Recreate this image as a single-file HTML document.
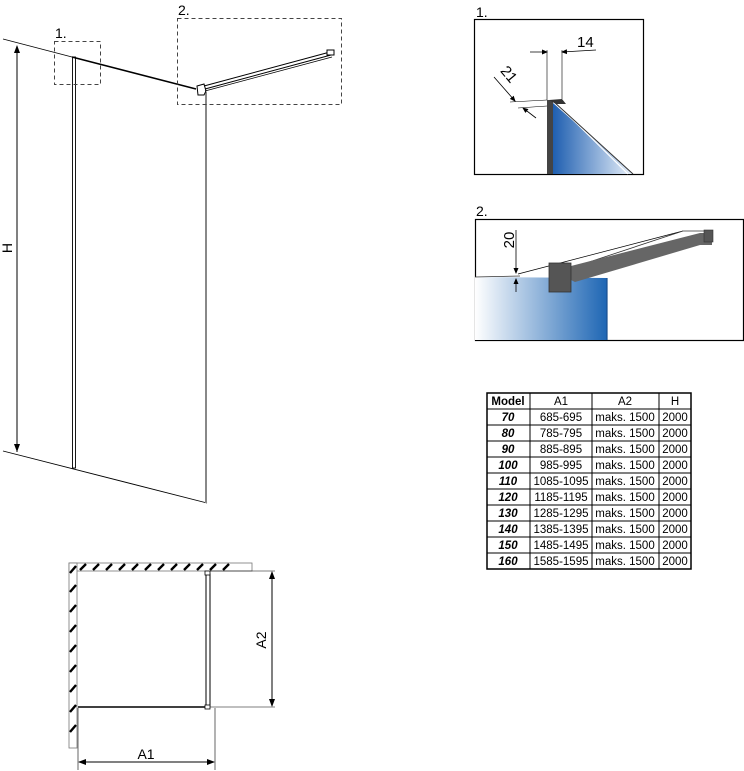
<!DOCTYPE html>
<html><head><meta charset="utf-8"><style>
html,body{margin:0;padding:0;background:#fff;}
svg{display:block;font-family:"Liberation Sans","DejaVu Sans",sans-serif;}
</style></head><body>
<svg width="744" height="771" viewBox="0 0 744 771" xmlns="http://www.w3.org/2000/svg">
<defs>
<linearGradient id="g1" x1="0" y1="0" x2="1" y2="0"><stop offset="0" stop-color="#1f5fb0"/><stop offset="1" stop-color="#e8f0fa"/></linearGradient>
<linearGradient id="g2" x1="0" y1="0" x2="1" y2="0"><stop offset="0" stop-color="#ffffff"/><stop offset="1" stop-color="#1e66b4"/></linearGradient>
<marker id="ar" markerWidth="8" markerHeight="8" refX="7" refY="4" orient="auto" markerUnits="userSpaceOnUse"><path d="M0,1 L8,4 L0,7 z" fill="#000"/></marker>
<marker id="ar2" markerWidth="6" markerHeight="6" refX="5" refY="3" orient="auto" markerUnits="userSpaceOnUse"><path d="M0,0.5 L6,3 L0,5.5 z" fill="#000"/></marker>
</defs>
<!-- main elevation -->
<line x1="3" y1="39" x2="72" y2="57" stroke="#000" stroke-width="0.8"/>
<line x1="72" y1="57" x2="196" y2="89" stroke="#000" stroke-width="1.5"/>
<line x1="3" y1="451" x2="207" y2="503" stroke="#000" stroke-width="0.9"/>
<rect x="72.5" y="57" width="3" height="411" fill="none" stroke="#000" stroke-width="0.9"/>
<line x1="206" y1="92" x2="206" y2="503" stroke="#888" stroke-width="2"/>
<path d="M197,86 L204,84 L206,91 L204,95 L198,95 z" fill="#fff" stroke="#000" stroke-width="1"/>
<line x1="204" y1="86" x2="330" y2="52" stroke="#000" stroke-width="1"/>
<line x1="205" y1="89" x2="331" y2="55" stroke="#000" stroke-width="1"/>
<line x1="205" y1="91" x2="332" y2="57" stroke="#000" stroke-width="0.8"/>
<rect x="327" y="50" width="7" height="5" fill="#fff" stroke="#000" stroke-width="1"/>
<line x1="17" y1="452" x2="17" y2="46" stroke="#000" stroke-width="1" marker-end="url(#ar)"/>
<line x1="17" y1="46" x2="17" y2="451" stroke="#000" stroke-width="1" marker-end="url(#ar)"/>
<text x="12" y="248" font-size="14" transform="rotate(-90 12 248)" text-anchor="middle">H</text>
<rect x="54.5" y="41.5" width="46" height="43" fill="none" stroke="#444" stroke-dasharray="4,3"/>
<rect x="177.5" y="18.5" width="164" height="86" fill="none" stroke="#444" stroke-dasharray="4,3"/>
<text x="55" y="38" font-size="14">1.</text>
<text x="178" y="15" font-size="14">2.</text>
<!-- detail 1 -->
<text x="476" y="17" font-size="14">1.</text>
<rect x="474.5" y="19.5" width="169" height="155" fill="#fff" stroke="#000" stroke-width="1.2"/>
<path d="M553,103 L633,174 L553,174 z" fill="url(#g1)"/>
<line x1="555" y1="102" x2="628" y2="174" stroke="#fff" stroke-width="1.2"/>
<line x1="553" y1="101" x2="633" y2="174" stroke="#333" stroke-width="1"/>
<rect x="547" y="100" width="6" height="74" fill="#444"/>
<path d="M549,100 L562,99 L566,104 L556,104 z" fill="#333"/>
<line x1="547" y1="50" x2="547" y2="100" stroke="#000" stroke-width="0.6"/>
<line x1="562" y1="50" x2="562" y2="99" stroke="#000" stroke-width="0.6"/>
<line x1="530" y1="52" x2="547" y2="52" stroke="#000" stroke-width="0.8" marker-end="url(#ar2)"/>
<line x1="596" y1="50" x2="562" y2="52" stroke="#000" stroke-width="0.8" marker-end="url(#ar2)"/>
<text x="577" y="47" font-size="15">14</text>
<line x1="510" y1="102" x2="547" y2="100" stroke="#000" stroke-width="0.6"/>
<line x1="518" y1="108" x2="547" y2="106" stroke="#000" stroke-width="0.6"/>
<line x1="494" y1="77" x2="515" y2="101" stroke="#000" stroke-width="0.8" marker-end="url(#ar2)"/>
<line x1="536" y1="118" x2="523" y2="108" stroke="#000" stroke-width="0.8" marker-end="url(#ar2)"/>
<text x="498" y="75" font-size="15" transform="rotate(50 503 75)">21</text>
<!-- detail 2 -->
<text x="476" y="216" font-size="14">2.</text>
<rect x="475.5" y="219.5" width="268" height="121" fill="#fff" stroke="#000" stroke-width="1.2"/>
<path d="M475,277 L607,278 L607,340 L475,340 z" fill="url(#g2)"/>
<line x1="607" y1="278" x2="607" y2="340" stroke="#1a4f90" stroke-width="1.2"/>
<line x1="475" y1="277" x2="520" y2="276" stroke="#333" stroke-width="0.8"/>
<line x1="518" y1="274" x2="683" y2="231" stroke="#000" stroke-width="0.7"/>
<path d="M571,268 L683,231 L709,231 L709,238 L571,275 z" fill="#fff" stroke="#333" stroke-width="0.8"/>
<path d="M571,266 L700,233 L712,233 L712,245 L700,245 L575,282 L571,280 z" fill="#666"/>
<rect x="704" y="230" width="9" height="12" fill="#555" stroke="#333" stroke-width="0.6"/>
<rect x="549" y="263" width="22" height="29" fill="#555" stroke="#333" stroke-width="0.8"/>
<line x1="516" y1="230" x2="516" y2="273" stroke="#000" stroke-width="0.8" marker-end="url(#ar2)"/>
<line x1="516" y1="292" x2="516" y2="279" stroke="#000" stroke-width="0.8" marker-end="url(#ar2)"/>
<text x="514" y="240" font-size="15" transform="rotate(-90 514 240)" text-anchor="middle">20</text>
<!-- plan view -->
<rect x="69" y="563" width="183" height="8" fill="#fff" stroke="#777" stroke-width="0.8"/>
<rect x="69" y="563" width="8" height="185" fill="#fff" stroke="#777" stroke-width="0.8"/>
<g stroke="#000" stroke-width="2.4">
<line x1="80" y1="570" x2="86" y2="564"/><line x1="93" y1="570" x2="99" y2="564"/><line x1="106" y1="570" x2="112" y2="564"/><line x1="119" y1="570" x2="125" y2="564"/><line x1="132" y1="570" x2="138" y2="564"/><line x1="145" y1="570" x2="151" y2="564"/><line x1="158" y1="570" x2="164" y2="564"/><line x1="171" y1="570" x2="177" y2="564"/><line x1="184" y1="570" x2="190" y2="564"/><line x1="197" y1="570" x2="203" y2="564"/><line x1="210" y1="570" x2="216" y2="564"/><line x1="223" y1="570" x2="229" y2="564"/>
<line x1="70" y1="573" x2="76" y2="566"/>
<line x1="70" y1="592" x2="76" y2="585"/><line x1="70" y1="612" x2="76" y2="605"/><line x1="70" y1="632" x2="76" y2="625"/><line x1="70" y1="652" x2="76" y2="645"/><line x1="70" y1="672" x2="76" y2="665"/><line x1="70" y1="692" x2="76" y2="685"/><line x1="70" y1="712" x2="76" y2="705"/><line x1="70" y1="732" x2="76" y2="725"/>
</g>
<rect x="206" y="574" width="4" height="132" fill="#fff" stroke="#000" stroke-width="1"/>
<rect x="205" y="571" width="5" height="4" fill="#fff" stroke="#000" stroke-width="0.8"/>
<rect x="205" y="705" width="5" height="4" fill="#fff" stroke="#000" stroke-width="0.8"/>
<line x1="78" y1="707" x2="205" y2="707" stroke="#000" stroke-width="1.5"/>
<line x1="210" y1="571" x2="275" y2="571" stroke="#000" stroke-width="0.6"/>
<line x1="210" y1="707" x2="275" y2="707" stroke="#000" stroke-width="0.6"/>
<line x1="272" y1="706" x2="272" y2="572" stroke="#000" stroke-width="0.9" marker-end="url(#ar)"/>
<line x1="272" y1="572" x2="272" y2="706" stroke="#000" stroke-width="0.9" marker-end="url(#ar)"/>
<text x="266" y="640" font-size="14" transform="rotate(-90 266 640)" text-anchor="middle">A2</text>
<line x1="78" y1="708" x2="78" y2="770" stroke="#000" stroke-width="0.6"/>
<line x1="215" y1="708" x2="215" y2="770" stroke="#000" stroke-width="0.6"/>
<line x1="214" y1="762" x2="79" y2="762" stroke="#000" stroke-width="0.9" marker-end="url(#ar)"/>
<line x1="79" y1="762" x2="214" y2="762" stroke="#000" stroke-width="0.9" marker-end="url(#ar)"/>
<text x="146" y="759" font-size="14" text-anchor="middle">A1</text>
<!-- table -->
<g font-size="11.5" text-anchor="middle" font-family="'Liberation Sans',sans-serif">
<rect x="487" y="393" width="204" height="176" fill="#fff" stroke="#000" stroke-width="1.5"/>
<g stroke="#000" stroke-width="1">
<line x1="530" y1="393" x2="530" y2="569"/><line x1="592" y1="393" x2="592" y2="569"/><line x1="659" y1="393" x2="659" y2="569"/>
<line x1="487" y1="409" x2="691" y2="409"/><line x1="487" y1="425" x2="691" y2="425"/><line x1="487" y1="441" x2="691" y2="441"/><line x1="487" y1="457" x2="691" y2="457"/><line x1="487" y1="473" x2="691" y2="473"/><line x1="487" y1="489" x2="691" y2="489"/><line x1="487" y1="505" x2="691" y2="505"/><line x1="487" y1="521" x2="691" y2="521"/><line x1="487" y1="537" x2="691" y2="537"/><line x1="487" y1="553" x2="691" y2="553"/>
</g>
<text x="508" y="405" font-weight="bold">Model</text><text x="561" y="405">A1</text><text x="625" y="405">A2</text><text x="675" y="405">H</text>
<g font-weight="bold" font-style="italic">
<text x="508" y="421">70</text><text x="508" y="437">80</text><text x="508" y="453">90</text><text x="508" y="469">100</text><text x="508" y="485">110</text><text x="508" y="501">120</text><text x="508" y="517">130</text><text x="508" y="533">140</text><text x="508" y="549">150</text><text x="508" y="565">160</text>
</g>
<text x="561" y="421">685-695</text><text x="561" y="437">785-795</text><text x="561" y="453">885-895</text><text x="561" y="469">985-995</text><text x="561" y="485">1085-1095</text><text x="561" y="501">1185-1195</text><text x="561" y="517">1285-1295</text><text x="561" y="533">1385-1395</text><text x="561" y="549">1485-1495</text><text x="561" y="565">1585-1595</text>
<g><text x="625" y="421">maks. 1500</text><text x="625" y="437">maks. 1500</text><text x="625" y="453">maks. 1500</text><text x="625" y="469">maks. 1500</text><text x="625" y="485">maks. 1500</text><text x="625" y="501">maks. 1500</text><text x="625" y="517">maks. 1500</text><text x="625" y="533">maks. 1500</text><text x="625" y="549">maks. 1500</text><text x="625" y="565">maks. 1500</text></g>
<g><text x="675" y="421">2000</text><text x="675" y="437">2000</text><text x="675" y="453">2000</text><text x="675" y="469">2000</text><text x="675" y="485">2000</text><text x="675" y="501">2000</text><text x="675" y="517">2000</text><text x="675" y="533">2000</text><text x="675" y="549">2000</text><text x="675" y="565">2000</text></g>
</g>
</svg>
</body></html>
